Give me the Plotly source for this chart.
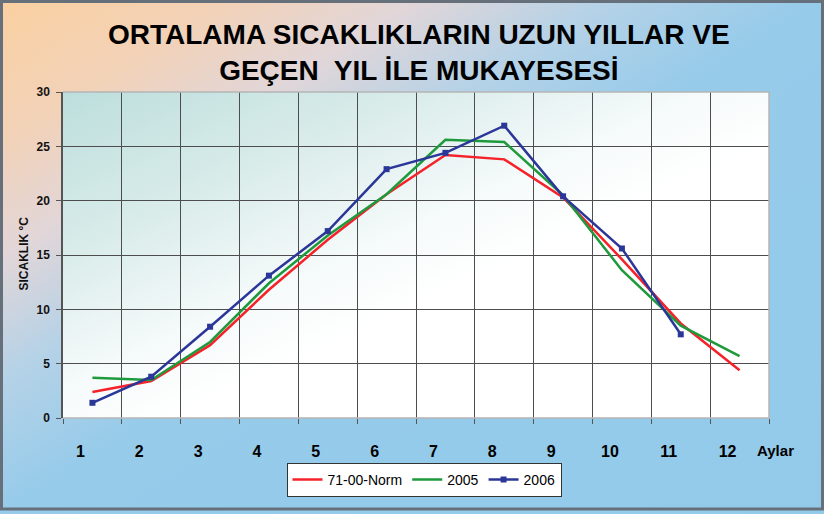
import base64
import plotly.graph_objects as go

# ---------------- data ----------------
months = [1, 2, 3, 4, 5, 6, 7, 8, 9, 10, 11, 12]
month_labels = ["1", "2", "3", "4", "5", "6", "7", "8", "9", "10", "11", "12"]
norm_7100 = [2.4, 3.4, 6.7, 11.8, 16.4, 20.6, 24.2, 23.8, 20.3, 14.6, 8.7, 4.4]
y2005 = [3.7, 3.5, 7.0, 12.4, 16.8, 20.6, 25.6, 25.4, 20.5, 13.6, 8.5, 5.7]
months_2006 = [1, 2, 3, 4, 5, 6, 7, 8, 9, 10, 11]
y2006 = [1.4, 3.8, 8.4, 13.1, 17.2, 22.9, 24.4, 26.9, 20.4, 15.6, 7.7]
y_ticks = [0, 5, 10, 15, 20, 25, 30]
series_names = ["71-00-Norm", "2005", "2006"]
title_text = "<b>ORTALAMA SICAKLIKLARIN UZUN YILLAR VE<br>GEÇEN  YIL İLE MUKAYESESİ</b>"

# ---------------- layout geometry ----------------
W, H = 824, 514
L, R, T, B = 63, 55, 92, 96
PW, PH = W - L - R, H - T - B


def px_x(px):
    return (px - L) / PW


def px_y(py):
    return (H - B - py) / PH


def svg_uri(stops, w, h):
    st = "".join(f'<stop offset="{o}" stop-color="{c}"/>' for o, c in stops)
    svg = (f'<svg xmlns="http://www.w3.org/2000/svg" width="{w}" height="{h}" '
           f'viewBox="0 0 {w} {h}" preserveAspectRatio="none"><defs>'
           f'<linearGradient id="g" x1="0" y1="0" x2="1" y2="1">{st}</linearGradient>'
           f'</defs><rect width="{w}" height="{h}" fill="url(#g)"/></svg>')
    return "data:image/svg+xml;base64," + base64.b64encode(svg.encode()).decode()


paper_grad = svg_uri([(0, "#FAD0A0"), (0.14, "#F2D2B8"), (0.25, "#E2D6D8"),
                      (0.37, "#B5D2E7"), (0.5, "#96CBEA"), (1, "#93CAEA")], W, H)
plot_grad = svg_uri([(0, "#BCDEDC"), (0.25, "#D9ECEA"), (0.45, "#F5FAFA"),
                     (0.58, "#FFFFFF"), (1, "#FFFFFF")], PW, PH)

fig = go.Figure()
fig.add_trace(go.Scatter(x=months, y=norm_7100, name=series_names[0], mode="lines",
                         line=dict(color="#F5222A", width=2.5)))
fig.add_trace(go.Scatter(x=months, y=y2005, name=series_names[1], mode="lines",
                         line=dict(color="#1E9A3C", width=2.5)))
fig.add_trace(go.Scatter(x=months_2006, y=y2006, name=series_names[2], mode="lines+markers",
                         line=dict(color="#2B3699", width=2.5),
                         marker=dict(symbol="square", size=6, color="#2B3699")))

font_main = "Liberation Sans, Arial, sans-serif"

fig.update_layout(
    width=W, height=H,
    margin=dict(l=L, r=R, t=T, b=B, pad=0),
    paper_bgcolor="#93CAEA",
    plot_bgcolor="rgba(0,0,0,0)",
    font=dict(family=font_main, color="#111"),
    showlegend=True,
    legend=dict(orientation="h", x=px_x(424), y=px_y(480), xanchor="center", yanchor="middle",
                bgcolor="#FFFFFF", bordercolor="#333333", borderwidth=1,
                font=dict(size=14, family=font_main, color="#000"),
                itemwidth=30, tracegroupgap=0),
    xaxis=dict(range=[0.5, 12.5], tickvals=months, ticktext=month_labels,
               ticks="", showgrid=False, zeroline=False,
               tickfont=dict(size=16, family=font_main, color="#000", weight="bold"),
               ticklabelshift=-12, ticklabelstandoff=22,
               showline=False,
               minor=dict(tickvals=[m + 0.5 for m in [0] + months], ticks="outside",
                          ticklen=5, tickcolor="#555", showgrid=True,
                          gridcolor="#4D4D4D", gridwidth=1)),
    yaxis=dict(range=[0, 30], tickvals=y_ticks, ticks="outside", ticklen=5,
               tickcolor="#555", showgrid=True, gridcolor="#4D4D4D", gridwidth=1,
               zeroline=False, showline=True, linecolor="#555", linewidth=1.5,
               tickfont=dict(size=12, family=font_main, color="#111", weight="bold"),
               ticklabelstandoff=4),
    images=[
        dict(source=paper_grad, xref="paper", yref="paper", x=-L / PW, y=1 + T / PH,
             sizex=W / PW, sizey=H / PH, xanchor="left", yanchor="top",
             sizing="stretch", layer="below"),
        dict(source=plot_grad, xref="paper", yref="paper", x=0, y=1, sizex=1, sizey=1,
             xanchor="left", yanchor="top", sizing="stretch", layer="below"),
    ],
    shapes=[
        dict(type="path", xref="paper", yref="paper", path="M 0 1 L 1 1 L 1 0 L 0 0",
             line=dict(color="#B5B5B5", width=1.5), layer="above"),
        dict(type="rect", xref="paper", yref="paper",
             x0=px_x(1.5), x1=px_x(822.5), y0=px_y(509), y1=px_y(1.5),
             line=dict(color="#66707A", width=3), layer="above"),
    ],
    annotations=[
        dict(text=title_text, xref="paper", yref="paper",
             x=px_x(419), y=px_y(52), xanchor="center", yanchor="middle",
             showarrow=False, font=dict(size=28, family=font_main, color="#000")),
        dict(text="<b>SICAKLIK °C</b>", textangle=-90, xref="paper", yref="paper",
             x=px_x(23.5), y=px_y(254), xanchor="center", yanchor="middle",
             showarrow=False, font=dict(size=12, family=font_main, color="#111")),
        dict(text="<b>Aylar</b>", xref="paper", yref="paper",
             x=px_x(775), y=px_y(450), xanchor="center", yanchor="middle",
             showarrow=False, font=dict(size=15, family=font_main, color="#000")),
    ],
)

fig.write_html("out.html", config={"displayModeBar": False},
               post_script="document.body.style.margin='0px';document.body.style.padding='0px';")
